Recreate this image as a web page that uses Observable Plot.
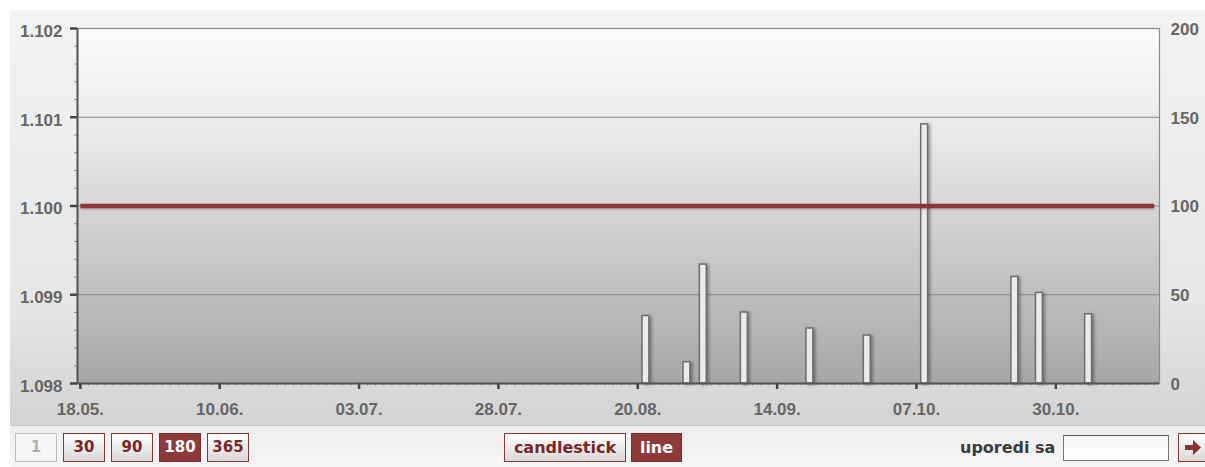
<!DOCTYPE html>
<html>
<head>
<meta charset="utf-8">
<script src="https://cdn.jsdelivr.net/npm/d3@7"></script>
<script src="https://cdn.jsdelivr.net/npm/@observablehq/plot@0.6"></script>
<style>
  html, body { margin: 0; padding: 0; background: #fff; }
  #wrap { position: relative; width: 1205px; height: 467px; overflow: hidden; background: #fff; }
  #panel { position: absolute; left: 10px; top: 10px; width: 1195px; height: 415px;
    background: linear-gradient(#f3f3f3, #e6e6e6 70%, #d3d3d3); }
  #strip { position: absolute; left: 10px; top: 425px; width: 1195px; height: 42px;
    border-top: 1px solid #c6c6c6; background: linear-gradient(#eeeeee, #f6f6f6); }
  #chart { position: absolute; left: 0; top: 0; }
  .btn { position: absolute; top: 433px; height: 27px; box-sizing: content-box;
    border: 1px solid #8b3636; color: #7a2626; background: linear-gradient(#ffffff, #d8d8d8);
    font-family: "DejaVu Sans", Verdana, sans-serif; font-weight: bold; font-size: 15px;
    text-align: center; line-height: 27px; }
  .btn.on { background: #8e3a3a; color: #fff; border-color: #7a2e2e; }
  .btn.off { border-color: #bdbdbd; color: #b0b0b0; background: #f6f6f6; }
  .btn.big { font-size: 16px; }
  #cmp { position: absolute; left: 960px; top: 438px; font-family: "DejaVu Sans", Verdana, sans-serif;
    font-weight: bold; font-size: 16px; color: #3c3c3c; }
  #inp { position: absolute; left: 1063px; top: 435px; width: 104px; height: 24px;
    border: 1px solid #777; border-top-color: #555; background: linear-gradient(#f6f6f6, #ffffff); }
  #go { position: absolute; left: 1178px; top: 433px; width: 30px; height: 27px;
    border: 1px solid #8b3636; background: linear-gradient(#ffffff, #d8d8d8); }
</style>
</head>
<body>
<div id="wrap">
  <div id="panel"></div>
  <div id="strip"></div>
  <div id="chart"></div>
  <div class="btn off" style="left:15px;width:40px;">1</div>
  <div class="btn" style="left:63px;width:40px;">30</div>
  <div class="btn" style="left:111px;width:40px;">90</div>
  <div class="btn on" style="left:159px;width:40px;">180</div>
  <div class="btn" style="left:207px;width:40px;">365</div>
  <div class="btn big" style="left:504px;width:120px;">candlestick</div>
  <div class="btn big on" style="left:631px;width:49px;">line</div>
  <div id="cmp">uporedi sa</div>
  <div id="inp"></div>
  <div id="go"><svg width="30" height="27"><path d="M6 11 h8 v-5 l8 7.5 l-8 7.5 v-5 h-8 z" fill="#8b2f2f"/></svg></div>
</div>
<script>
// ---- data ----
const tickDates  = ["2009-05-18","2009-06-10","2009-07-03","2009-07-28","2009-08-20","2009-09-14","2009-10-07","2009-10-30"];
const tickLabels = ["18.05.","10.06.","03.07.","28.07.","20.08.","14.09.","07.10.","30.10."];
const volumeDates = ["2009-08-21","2009-08-28","2009-09-01","2009-09-08","2009-09-18","2009-09-29","2009-10-08","2009-10-23","2009-10-28","2009-11-05"];
const volumes     = [38, 12, 67, 40, 31, 27, 146, 60, 51, 39];
const priceDates  = ["2009-05-18","2009-11-17"];
const prices      = [1.100, 1.100];
const priceTicks  = [1.098, 1.099, 1.100, 1.101, 1.102];
const volumeMax   = 200;

// trading-day (weekday) index from the first date
const start = new Date("2009-05-18T00:00:00Z");
function tradingIndex(iso) {
  const d = new Date(iso + "T00:00:00Z");
  let n = 0;
  for (let t = new Date(start); t < d; t.setUTCDate(t.getUTCDate() + 1)) {
    const w = t.getUTCDay();
    if (w !== 0 && w !== 6) n++;
  }
  return n;
}
const yMin = priceTicks[0], yMax = priceTicks[priceTicks.length - 1];
const volToY = v => yMin + v / volumeMax * (yMax - yMin);

const tickIdx = tickDates.map(tradingIndex);
const labelByIdx = new Map(tickIdx.map((i, k) => [i, tickLabels[k]]));
const bars = volumeDates.map((d, k) => ({i: tradingIndex(d), v: volumes[k]}));
const priceData = priceDates.map((d, k) => ({i: tradingIndex(d), p: prices[k]}));
const lastIdx = priceData[priceData.length - 1].i;
const minorX = d3.range(0, lastIdx + 1);
const minorY = d3.range(0, 21).filter(k => k % 5 !== 0).map(k => yMin + k * (yMax - yMin) / 20);

const chart = Plot.plot({
  width: 1205,
  height: 426,
  marginLeft: 77,
  marginRight: 46,
  marginTop: 28,
  marginBottom: 43,
  style: {background: "transparent", fontFamily: "'Liberation Sans', Arial, sans-serif", fontSize: "17px", overflow: "visible"},
  x: {type: "linear", domain: [-0.35, lastIdx + 0.65]},
  y: {domain: [yMin, yMax]},
  marks: [
    Plot.frame({fill: "url(#plotbg)", stroke: "#8a8a8a", strokeWidth: 1.2}),
    Plot.ruleY(priceTicks.slice(1, -1), {stroke: "#858585", strokeWidth: 1.2}),
    Plot.rect(bars, {x1: d => d.i - 0.42, x2: d => d.i + 0.42, y1: yMin, y2: d => volToY(d.v),
      fill: "#ebebeb", stroke: "#6e6e6e", strokeWidth: 1.5}),
    Plot.line(priceData, {x: "i", y: "p", stroke: "#8f3535", strokeWidth: 4.5, strokeLinecap: "butt"}),
    // minor ticks
    Plot.axisY({anchor: "left", ticks: minorY, tickSize: 3, stroke: "#8c8c8c", fill: "none", label: null}),
    Plot.axisX({anchor: "bottom", ticks: minorX, tickSize: 2.5, stroke: "#8c8c8c", fill: "none", label: null}),
    // axis lines
    Plot.ruleX([-0.35], {stroke: "#555", strokeWidth: 2}),
    Plot.ruleY([yMin], {stroke: "#555", strokeWidth: 2}),
    // major ticks
    Plot.axisY({anchor: "left", ticks: priceTicks, tickSize: 7, stroke: "#444", strokeWidth: 2.5, fill: "none", label: null}),
    Plot.axisX({anchor: "bottom", ticks: tickIdx, tickSize: 6, stroke: "#444", strokeWidth: 2.5, fill: "none", label: null}),
    // labels
    Plot.axisY({anchor: "left", ticks: priceTicks, tickSize: 0, tickPadding: 15, tickFormat: d3.format(".3f"),
      fill: "#666", fontWeight: "bold", dy: 3, label: null}),
    Plot.axisY({anchor: "right", ticks: priceTicks, tickSize: 0, tickPadding: 11,
      tickFormat: d => String(Math.round((d - yMin) / (yMax - yMin) * volumeMax)),
      fill: "#666", fontWeight: "bold", dy: 1, label: null}),
    Plot.axisX({anchor: "bottom", ticks: tickIdx, tickSize: 0, tickPadding: 19, tickFormat: d => labelByIdx.get(d),
      fill: "#666", fontWeight: "bold", label: null})
  ]
});

d3.select(chart).insert("defs", ":first-child").html(
  '<linearGradient id="plotbg" x1="0" y1="0" x2="0" y2="1">' +
  '<stop offset="0" stop-color="#fbfbfb"/><stop offset="0.3" stop-color="#e9e9e9"/>' +
  '<stop offset="0.65" stop-color="#c8c8c8"/><stop offset="1" stop-color="#a6a6a6"/></linearGradient>');
d3.select(chart).selectAll('g[aria-label="rect"]').style("filter", "drop-shadow(2.5px 1px 1.5px rgba(0,0,0,0.35))");
d3.select(chart).selectAll('g[aria-label="line"]').style("filter", "drop-shadow(0px 1.5px 1px rgba(0,0,0,0.25))");
document.getElementById("chart").appendChild(chart);
</script>
</body>
</html>
